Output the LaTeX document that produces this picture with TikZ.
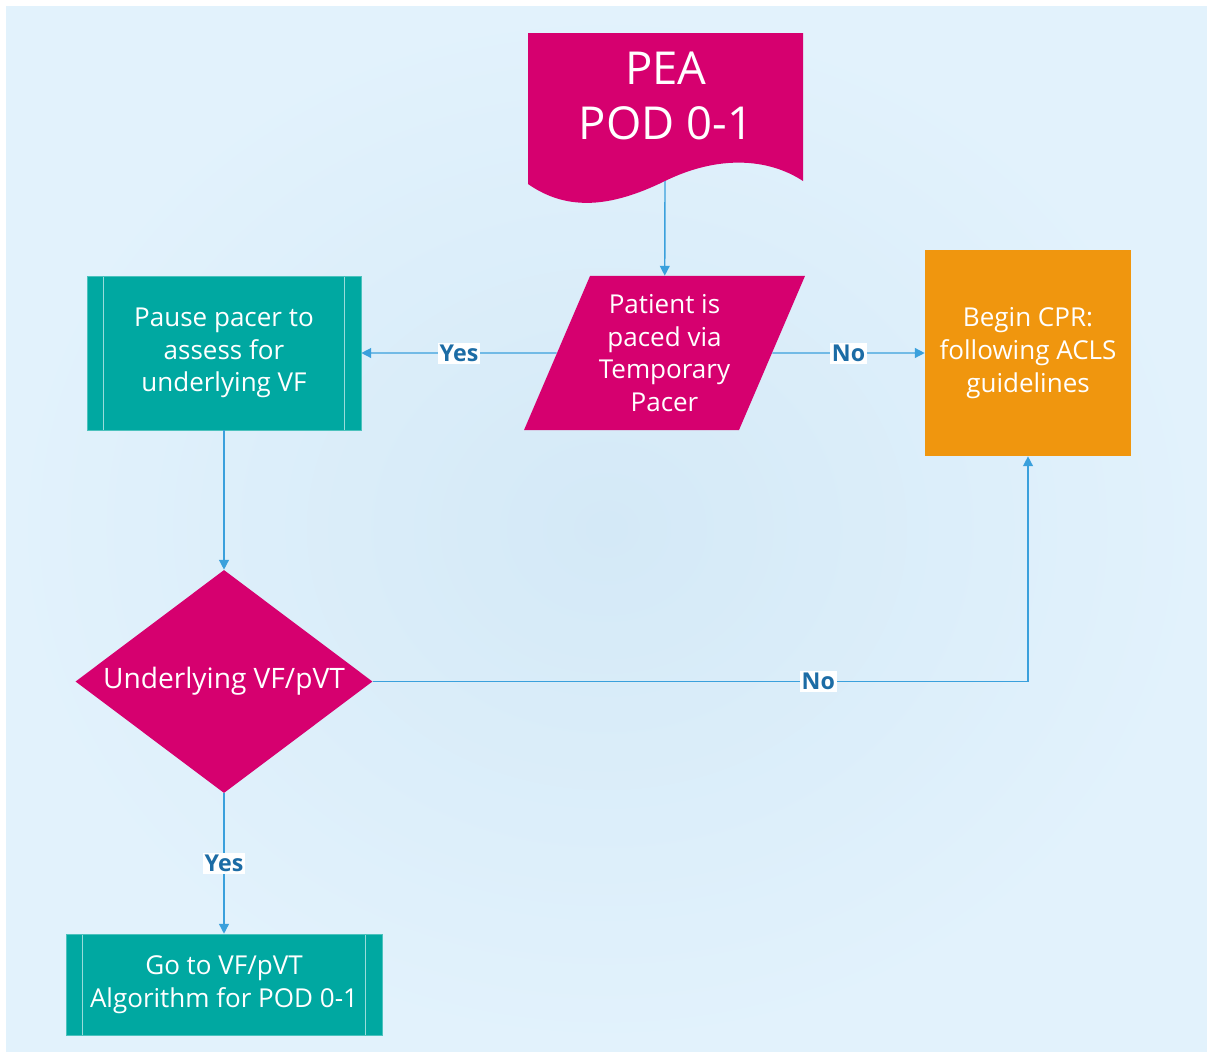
\documentclass[tikz,border=0pt]{standalone}
\usepackage{fontspec}
\setmainfont{Open Sans}
\usetikzlibrary{positioning, arrows.meta, shapes.geometric}

\definecolor{podpink}{RGB}{214,0,111}
\definecolor{podteal}{RGB}{0,168,161}
\definecolor{podorange}{RGB}{240,150,14}
\definecolor{linkblue}{RGB}{58,160,220}
\definecolor{lblblue}{RGB}{28,108,165}
\definecolor{bginner}{RGB}{212,233,247}
\definecolor{bgouter}{RGB}{226,242,252}

\begin{document}
\begin{tikzpicture}[
    x=0.025cm, y=-0.025cm,
    txt/.style={text=white, font=\fontsize{18.5}{23.3}\selectfont, align=center, inner sep=0pt},
    proc/.style={txt, rectangle, fill=podteal, draw=podteal!70!white, line width=0.4pt,
        path picture={
            \draw[white!60!podteal, line width=0.8pt] ([xshift=0.42cm]path picture bounding box.north west) -- ([xshift=0.42cm]path picture bounding box.south west);
            \draw[white!60!podteal, line width=0.8pt] ([xshift=-0.42cm]path picture bounding box.north east) -- ([xshift=-0.42cm]path picture bounding box.south east);
        }},
    io/.style={txt, trapezium, trapezium left angle=63.7, trapezium right angle=116.3, trapezium stretches=true, fill=podpink},
    decision/.style={txt, diamond, aspect=1.33, fill=podpink, font=\fontsize{20}{24}\selectfont},
    cprbox/.style={txt, rectangle, fill=podorange},
    link/.style={draw=linkblue, line width=1pt, -{Triangle[length=7pt, width=7pt]}},
    lbl/.style={fill=white, text=lblblue, font=\fontsize{16.5}{18}\selectfont\bfseries, inner sep=1.5pt}
]
    % backdrop
    \fill[white] (0,0) rectangle (1207,1054);
    \shade[inner color=bginner, outer color=bgouter] (6,6) rectangle (1207,1051);

    % start document shape
    \fill[podpink] (528,33) -- (803,33) -- (803,181) .. controls (768,158) and (718,155) .. (665,181)
        .. controls (612,207) and (568,212) .. (528,184) -- cycle;
    \node[txt, font=\fontsize{32.3}{39.7}\selectfont] (start) at (666,96) {PEA\\POD 0-1};
    \coordinate (startfoot) at (665,181);

    \node[io, minimum width=7.025cm, minimum height=3.85cm] (paced) at (664.5,353) {Patient is\\paced via\\Temporary\\Pacer};
    \node[proc, minimum width=6.85cm, minimum height=3.85cm] (pause) at (224,353) {Pause pacer to\\assess for\\underlying VF};
    \node[cprbox, minimum width=5.15cm, minimum height=5.15cm] (cpr) at (1028,353) {Begin CPR:\\following ACLS\\guidelines};
    \node[decision, minimum width=7.425cm, minimum height=5.575cm] (underlying) at (224,681.5) {Underlying VF/pVT};
    \node[proc, minimum width=7.9cm, minimum height=2.525cm] (gotovf) at (224,984.5) {Go to VF/pVT\\Algorithm for POD 0-1};

    % connectors
    \draw[link] (startfoot) -- (paced);
    \draw[link] (paced) -- node[lbl] {Yes} (pause);
    \draw[link] (paced) -- node[lbl] {No} (cpr);
    \draw[link] (pause) -- (underlying);
    \draw[link] (underlying) -- node[lbl] {Yes} (gotovf);
    \draw[link] (underlying.east) -| node[lbl, pos=0.34] {No} (cpr.south);
\end{tikzpicture}
\end{document}
